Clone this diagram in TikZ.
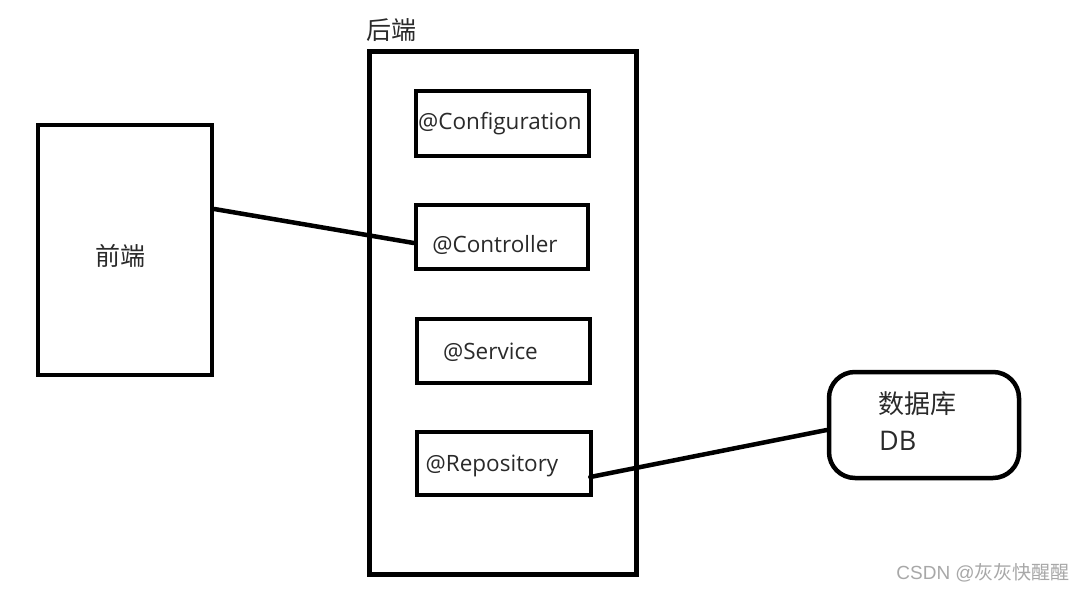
\documentclass[tikz,border=0pt]{standalone}
\usepackage{fontspec}
\setmainfont{Open Sans}
\newfontfamily\cjk{Noto Sans CJK SC}
\newfontfamily\wmfont{Liberation Sans}
\definecolor{txt}{HTML}{2A2A2A}
\definecolor{wm}{HTML}{A8A8A8}
\begin{document}
\begin{tikzpicture}[x=1pt,y=-1pt,
  box/.style={draw=black,line width=4.5pt,rectangle,inner sep=0pt},
  bigbox/.style={draw=black,line width=5pt,rectangle,inner sep=0pt},
  lbl/.style={text=txt,font=\fontsize{22.5}{26}\selectfont,inner sep=0pt},
  cn/.style={text=txt,font=\cjk\fontsize{25}{30}\selectfont,inner sep=0pt},
  conn/.style={draw=black,line width=4.5pt,line cap=round}]
\useasboundingbox (0,0) rectangle (1085,591);
\fill[white] (0,0) rectangle (1085,591);

% frontend
\node[box,minimum width=174pt,minimum height=250pt] (fe) at (125,250) {};
\node[cn] (fet) at (120,256) {前端};

% backend
\node[bigbox,minimum width=267pt,minimum height=522pt] (be) at (502.5,313) {};
\node[cn] (bet) at (391,30) {后端};

\node[box,minimum width=173pt,minimum height=65pt] (cfg) at (502.5,123.5) {};
\node[lbl] (cfgt) at (500,124) {@Configuration};

\node[box,minimum width=172pt,minimum height=64pt] (ctl) at (502,237) {};
\node[lbl] (ctlt) at (495,245) {@Controller};

\node[box,minimum width=173pt,minimum height=64pt] (svc) at (503.5,351) {};
\node[lbl] (svct) at (490.5,352) {@Service};

\node[box,minimum width=174pt,minimum height=63pt] (repo) at (504,463.5) {};
\node[lbl] (repot) at (492,466) {@Repository};

% database
\node[draw=black,line width=4.5pt,rounded corners=26pt,minimum width=190pt,minimum height=106pt,inner sep=0pt] (db) at (924,425) {};
\node[text=txt,font=\cjk\fontsize{26}{30}\selectfont,inner sep=0pt,anchor=west] (dbt1) at (878,404) {数据库};
\node[text=txt,font=\fontsize{27}{30}\selectfont,inner sep=0pt,anchor=west] (dbt2) at (879,441) {DB};

% connectors
\draw[conn] ([yshift=41pt]fe.east) -- ([yshift=-6pt]ctl.west);
\draw[conn] ([xshift=-3pt,yshift=-13.5pt]repo.east) -- ([yshift=-5pt]db.west);

% watermark
\node[text=wm,inner sep=0pt,anchor=east] (wmk) at (1070,573) {\wmfont\fontsize{19}{22}\selectfont CSDN @\cjk 灰灰快醒醒};
\end{tikzpicture}
\end{document}
